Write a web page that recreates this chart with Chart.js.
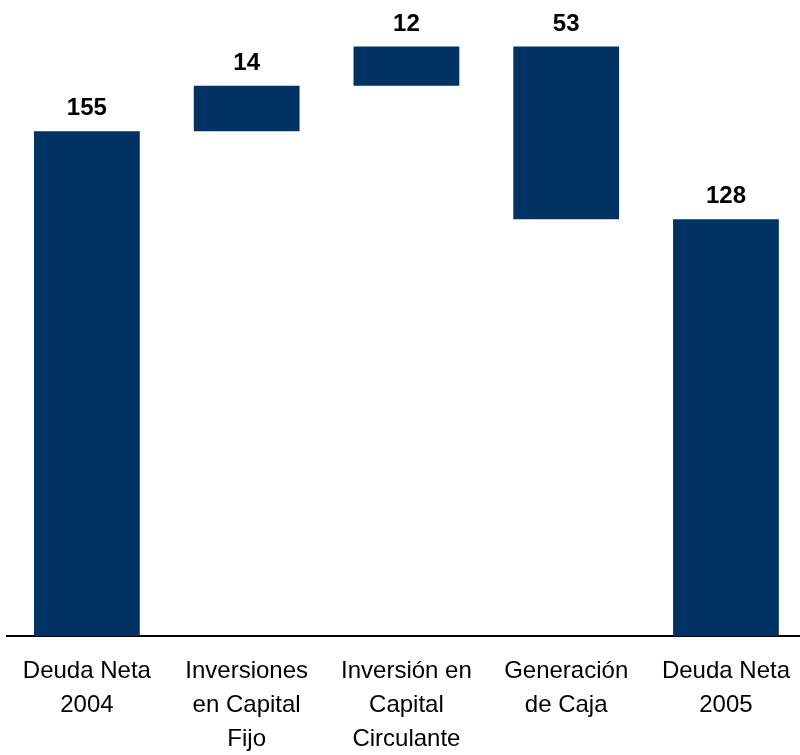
<!DOCTYPE html>
<html>
<head>
<meta charset="utf-8">
<script src="https://cdn.jsdelivr.net/npm/chart.js@4/dist/chart.umd.min.js"></script>
<style>
  html, body { margin: 0; padding: 0; background: #fff; overflow: hidden; }
  #wrap { width: 808px; height: 755px; position: relative; }
</style>
</head>
<body>
<div id="wrap"><canvas id="c"></canvas></div>
<script>
const categories = [
  ["Deuda Neta", "2004"],
  ["Inversiones", "en Capital", "Fijo"],
  ["Inversión en", "Capital", "Circulante"],
  ["Generación", "de Caja"],
  ["Deuda Neta", "2005"]
];
const barLow  = [0, 155, 169, 128, 0];
const barHigh = [155, 169, 181, 181, 128];
const valueLabels = ["155", "14", "12", "53", "128"];

const FONT = "'Liberation Sans', Arial, sans-serif";

const valueLabelPlugin = {
  id: 'valueLabels',
  afterDatasetsDraw(chart) {
    const ctx = chart.ctx;
    const meta = chart.getDatasetMeta(0);
    ctx.save();
    ctx.font = "bold 24px " + FONT;
    ctx.fillStyle = "#000";
    ctx.textAlign = "center";
    ctx.textBaseline = "alphabetic";
    meta.data.forEach((bar, i) => {
      const top = Math.min(bar.y, bar.base);
      ctx.fillText(valueLabels[i], bar.x, top - 16);
    });
    ctx.restore();
  }
};

new Chart(document.getElementById('c'), {
  type: 'bar',
  data: {
    labels: categories,
    datasets: [{
      data: barLow.map((lo, i) => [lo, barHigh[i]]),
      backgroundColor: '#003363',
      borderWidth: 0,
      barPercentage: 0.662,
      categoryPercentage: 1.0
    }]
  },
  options: {
    responsive: true,
    maintainAspectRatio: false,
    animation: false,
    layout: { padding: { left: 7, right: 0, top: 1, bottom: 0 } },
    plugins: { legend: { display: false }, tooltip: { enabled: false } },
    scales: {
      y: { display: false, min: 0, max: 195 },
      x: {
        grid: { display: false, drawTicks: false },
        border: { display: true, color: '#000', width: 2 },
        ticks: {
          color: '#000',
          font: { family: FONT, size: 24, lineHeight: 34 / 24 },
          padding: 18,
          maxRotation: 0,
          autoSkip: false
        },
        afterFit(scale) { scale.height = 119; }
      }
    }
  },
  plugins: [valueLabelPlugin]
});
</script>
</body>
</html>
